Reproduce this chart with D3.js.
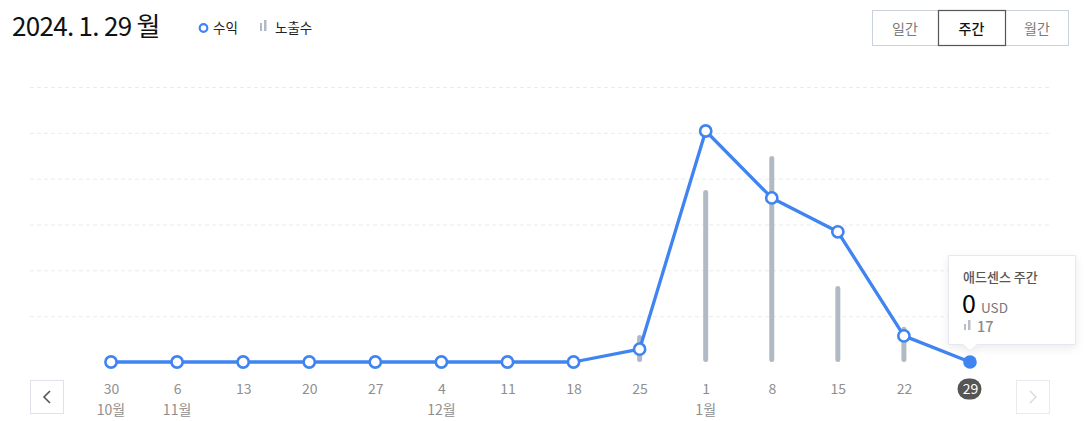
<!DOCTYPE html>
<html><head><meta charset="utf-8">
<script src="https://cdn.jsdelivr.net/npm/d3@7"></script>
<style>
html,body{margin:0;padding:0;background:#fff;}
svg{display:block;font-family:"Noto Sans CJK KR","Noto Sans",sans-serif;}
</style></head>
<body>
<svg id="c" width="1090" height="421"></svg>
<script>
const days = ["30","6","13","20","27","4","11","18","25","1","8","15","22","29"];
const months = ["10월","11월","","","","12월","","","","1월","","","",""];
const revenue = [0,0,0,0,0,0,0,0,0.28,5.04,3.58,2.84,0.57,0];
const impressions = [0,0,0,0,0,0,0,0,88,563,674,249,115,17];
const gridTicks = [1,2,3,4,5,6];
const title = "2024. 1. 29 월";
const tabs = ["일간","주간","월간"];

const svg = d3.select("#c");
const blue = "#3f84f1";
const barCol = "#b1bac4";

const x = d3.scalePoint().domain(d3.range(days.length)).range([111, 970]);
const y = d3.scaleLinear().domain([0, 6]).range([362, 87]);
const yb = d3.scaleLinear().domain([0, 900]).range([362, 87]);

// grid
const grid = svg.append("g").attr("transform","translate(30,0)")
  .call(d3.axisLeft(y).tickValues(gridTicks).tickSize(-1022).tickFormat(""));
grid.select(".domain").remove();
grid.selectAll(".tick line").attr("stroke","#ebebeb").attr("stroke-dasharray","4,3").attr("stroke-width",1);

// bars
svg.append("g").selectAll("line").data(impressions.map((v,i)=>({v,i})).filter(d=>d.v>0)).join("line")
  .attr("x1",d=>x(d.i)).attr("x2",d=>x(d.i))
  .attr("y1",d=>yb(0)-2.5).attr("y2",d=>yb(d.v)+2.5)
  .attr("stroke",barCol).attr("stroke-width",5).attr("stroke-linecap","round");

// line
const line = d3.line().x((d,i)=>x(i)).y(d=>y(d));
svg.append("path").datum(revenue).attr("d",line)
  .attr("fill","none").attr("stroke",blue).attr("stroke-width",3.3).attr("stroke-linejoin","round");

svg.append("g").selectAll("circle").data(revenue).join("circle")
  .attr("cx",(d,i)=>x(i)).attr("cy",d=>y(d))
  .attr("r",(d,i)=> i===revenue.length-1 ? 6.8 : 5.6)
  .attr("fill",(d,i)=> i===revenue.length-1 ? blue : "#fff")
  .attr("stroke",blue).attr("stroke-width",(d,i)=> i===revenue.length-1 ? 0 : 2.6);

// x axis labels
const last = days.length-1;
svg.append("rect").attr("x",x(last)-12.5).attr("y",378.5).attr("width",24).attr("height",21).attr("rx",10.5)
  .attr("fill","#555");
const xa = svg.append("g").attr("transform","translate(0,394)")
  .call(d3.axisBottom(x).tickSize(0).tickFormat(i=>days[i]));
xa.select(".domain").remove();
xa.selectAll("text").attr("y",0).attr("dy",0).attr("font-size",14).attr("fill",(d)=> d===last ? "#fff" : "#8f8f8f")
  .attr("font-family","'Noto Sans CJK KR','Noto Sans',sans-serif");
svg.append("g").selectAll("text").data(months).join("text")
  .attr("x",(d,i)=>x(i)).attr("y",415).attr("text-anchor","middle")
  .attr("font-size",14).attr("fill","#8f8f8f").text(d=>d);

// nav buttons
svg.append("rect").attr("x",30.5).attr("y",380.5).attr("width",33).attr("height",33).attr("fill","#fff").attr("stroke","#dfe2ea");
svg.append("path").attr("d","M50,391 L44,397 L50,403").attr("fill","none").attr("stroke","#555").attr("stroke-width",1.6);
svg.append("rect").attr("x",1016.5).attr("y",380.5).attr("width",33).attr("height",33).attr("fill","#fff").attr("stroke","#e8eaf0");
svg.append("path").attr("d","M1030,391 L1036,397 L1030,403").attr("fill","none").attr("stroke","#d6d9de").attr("stroke-width",1.4);

// title
svg.append("text").attr("x",12).attr("y",36).attr("font-size",26).attr("fill","#111").attr("letter-spacing","-0.7").text(title);

// legend
svg.append("circle").attr("cx",203.5).attr("cy",28).attr("r",3.8).attr("fill","#fff").attr("stroke",blue).attr("stroke-width",2.2);
svg.append("text").attr("x",213).attr("y",33).attr("font-size",13.5).attr("fill","#222").text("수익");
svg.append("rect").attr("x",260).attr("y",23).attr("width",2).attr("height",8).attr("fill",barCol);
svg.append("rect").attr("x",264).attr("y",20).attr("width",2.5).attr("height",11).attr("fill",barCol);
svg.append("text").attr("x",275).attr("y",33).attr("font-size",13.5).attr("fill","#222").text("노출수");

// tabs
const tabX = [872, 938, 1005, 1069];
svg.append("rect").attr("x",872.5).attr("y",10.5).attr("width",196).attr("height",35).attr("fill","#fff").attr("stroke","#cbd1da");
tabs.forEach((t,i)=>{
  if(i===1){
    svg.append("rect").attr("x",tabX[i]+0.5).attr("y",10.5).attr("width",tabX[i+1]-tabX[i]).attr("height",35)
      .attr("fill","#fff").attr("stroke","#555").attr("stroke-width",1.2);
  }
  svg.append("text").attr("x",(tabX[i]+tabX[i+1])/2).attr("y",34).attr("text-anchor","middle")
    .attr("font-size",14).attr("fill", i===1 ? "#111" : "#7a7a7a").attr("font-weight", i===1 ? 500 : 400).text(t);
});

// tooltip
const defs = svg.append("defs");
const f = defs.append("filter").attr("id","sh").attr("x","-20%").attr("y","-20%").attr("width","140%").attr("height","150%");
f.append("feDropShadow").attr("dx",0).attr("dy",3).attr("stdDeviation",4).attr("flood-color","#000").attr("flood-opacity",0.08);
const tx = x(last);
const tg = svg.append("g");
tg.append("path")
  .attr("d",`M948.5,255.5 H1075.5 V344.5 H${tx+7} L${tx},351 L${tx-7},344.5 H948.5 Z`)
  .attr("fill","#fff").attr("stroke","#e6e8ef").attr("filter","url(#sh)");
tg.append("text").attr("x",963).attr("y",282).attr("font-size",13).attr("font-weight",500).attr("fill","#555").text("애드센스 주간");
tg.append("text").attr("x",962).attr("y",313).attr("font-size",25).attr("fill","#000").text(d3.format("d")(revenue[last]));
tg.append("text").attr("x",981).attr("y",313).attr("font-size",13.5).attr("fill","#777").text("USD");
tg.append("rect").attr("x",964).attr("y",324).attr("width",2).attr("height",6).attr("fill","#b8bec6");
tg.append("rect").attr("x",968).attr("y",320).attr("width",2.5).attr("height",10).attr("fill","#b8bec6");
tg.append("text").attr("x",977).attr("y",332).attr("font-size",14.5).attr("font-weight",500).attr("fill","#8a8a8a").text(impressions[last]);
</script>
</body></html>
